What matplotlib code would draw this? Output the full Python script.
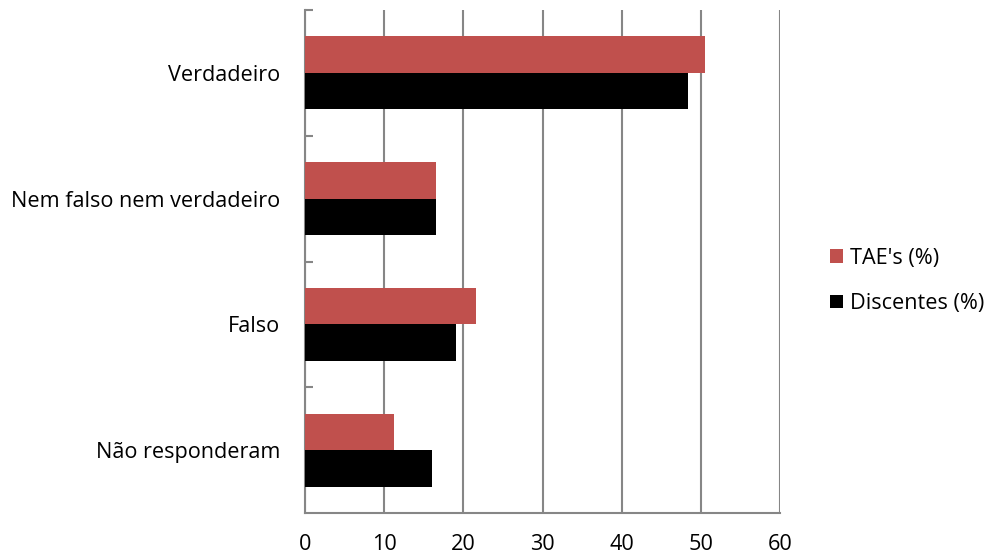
import matplotlib
matplotlib.use("Agg")
import matplotlib.pyplot as plt
import numpy as np

categories = ["Verdadeiro", "Nem falso nem verdadeiro", "Falso", "Não responderam"]
tae = [50.5, 16.5, 21.6, 11.3]
discentes = [48.4, 16.5, 19.1, 16.1]
xticks = [0, 10, 20, 30, 40, 50, 60]

RED = "#C0504D"
GRID = "#868686"
FS = 15.6

plt.rcParams["font.family"] = ["Open Sans", "DejaVu Sans"]

fig = plt.figure(figsize=(9.9, 5.56), dpi=100)
ax = fig.add_axes([305 / 990, 1 - 513 / 556, 475 / 990, 503 / 556])

y = np.arange(len(categories))
h = 0.29
ax.barh(y - h / 2, tae, height=h, color=RED, label="TAE's (%)", zorder=3)
ax.barh(y + h / 2, discentes, height=h, color="black", label="Discentes (%)", zorder=3)

ax.set_xlim(0, 60)
ax.set_ylim(len(categories) - 0.5, -0.5)
ax.set_xticks(xticks)
ax.set_xticklabels([str(v) for v in xticks])
ax.set_yticks(y)
ax.set_yticklabels(categories)
ax.set_yticks(np.arange(-0.5, len(categories) - 0.5, 1.0), minor=True)

ax.tick_params(axis="x", length=0, pad=15, labelsize=FS, colors="black")
ax.tick_params(axis="y", which="major", length=0, pad=18, labelsize=FS)
ax.tick_params(axis="y", which="minor", direction="in", length=6, width=1.5, color=GRID)

ax.grid(axis="x", color=GRID, linewidth=1.5, zorder=0)
for side in ("top", "right"):
    ax.spines[side].set_visible(False)
for side in ("left", "bottom"):
    ax.spines[side].set_color(GRID)
    ax.spines[side].set_linewidth(1.5)

ax.legend(loc="center left", bbox_to_anchor=(830 / 990, 1 - 281 / 556),
          bbox_transform=fig.transFigure, frameon=False, fontsize=FS,
          handlelength=0.58, handleheight=0.58, handletextpad=0.35,
          labelspacing=1.12, borderaxespad=0, borderpad=0)

fig.savefig("out.png", dpi=100)
